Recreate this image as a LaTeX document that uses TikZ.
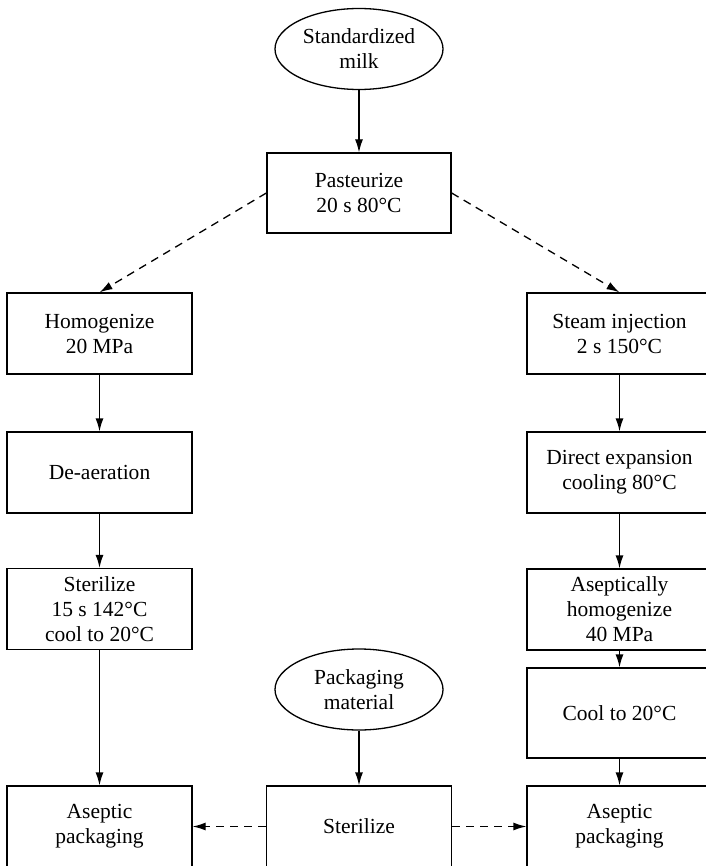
\documentclass[tikz,border=0pt]{standalone}
\usepackage{fontspec}
\setmainfont{Liberation Serif}
\usetikzlibrary{arrows.meta,shapes.geometric}
\begin{document}
\begin{tikzpicture}[x=1pt,y=-1pt,
  every node/.style={font=\fontsize{21.5}{25}\selectfont, align=center, inner sep=0pt},
  procbox/.style={draw, line width=1.3pt, rectangle, minimum width=185pt, minimum height=81pt},
  srcell/.style={draw, line width=1.3pt, ellipse, minimum width=168pt, minimum height=81pt},
  flow/.style={line width=1.3pt, -{Latex[length=13pt,width=8pt]}},
  dflow/.style={flow, dash pattern=on 8pt off 6pt}
]
\useasboundingbox (0,0) rectangle (705,866);
\node[srcell] (milk) at (359,49) {Standardized\\milk};
\node[procbox, minimum width=184pt, minimum height=80pt] (past) at (359,193) {Pasteurize\\20 s 80\textdegree C};
\node[procbox] (homog) at (99.5,333.5) {Homogenize\\20 MPa};
\node[procbox] (deaer) at (99.5,472.5) {De-aeration};
\node[procbox] (ster1) at (99.5,609) {Sterilize\\15 s 142\textdegree C\\cool to 20\textdegree C};
\node[procbox] (asep1) at (99.5,826.5) {Aseptic\\packaging};
\node[procbox] (steam) at (619.5,333.5) {Steam injection\\2 s 150\textdegree C};
\node[procbox] (direct) at (619.5,472.5) {Direct expansion\\cooling 80\textdegree C};
\node[procbox] (asephom) at (619.5,609.5) {Aseptically\\homogenize\\40 MPa};
\node[procbox, minimum height=90pt] (cool) at (619.5,713) {Cool to 20\textdegree C};
\node[procbox] (asep2) at (619.5,826.5) {Aseptic\\packaging};
\node[srcell] (pack) at (359,689.5) {Packaging\\material};
\node[procbox] (ster2) at (359,826.5) {Sterilize};

\draw[flow] (milk.south) -- (past.north);
\draw[dflow] (past.west) -- (homog.north);
\draw[dflow] (past.east) -- (steam.north);
\draw[flow] (homog) -- (deaer);
\draw[flow] (deaer) -- (ster1);
\draw[flow] (ster1) -- (asep1);
\draw[flow] (steam) -- (direct);
\draw[flow] (direct) -- (asephom);
\draw[flow] (asephom) -- (cool);
\draw[flow] (cool) -- (asep2);
\draw[flow] (pack.south) -- (ster2.north);
\draw[dflow] (ster2.west) -- (asep1.east);
\draw[dflow] (ster2.east) -- (asep2.west);
\end{tikzpicture}
\end{document}
